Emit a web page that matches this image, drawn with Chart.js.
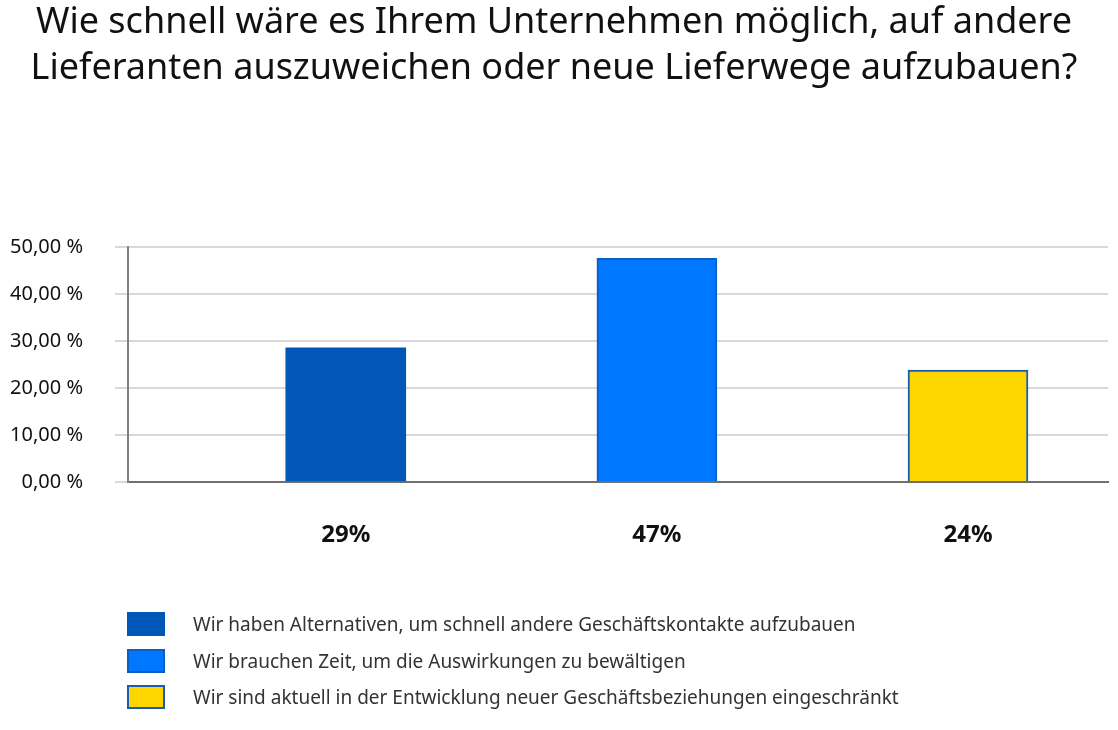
<!DOCTYPE html>
<html>
<head>
<meta charset="utf-8">
<script src="https://cdn.jsdelivr.net/npm/chart.js@4"></script>
<style>
  html, body { margin: 0; padding: 0; background: #fff; }
  #wrap { position: relative; width: 1118px; height: 730px; }
  #legend { position: absolute; left: 127px; top: 606px; font-family: "Noto Sans", sans-serif; font-size: 19px; color: #333; }
  .item { display: flex; align-items: center; height: 36.5px; }
  .box { width: 34px; height: 20px; margin-right: 28px; box-sizing: content-box; }
</style>
</head>
<body>
<div id="wrap">
  <canvas id="chart" width="1118" height="730"></canvas>
  <div id="legend"></div>
</div>
<script>
const titleLines = ['Wie schnell wäre es Ihrem Unternehmen möglich, auf andere', 'Lieferanten auszuweichen oder neue Lieferwege aufzubauen?'];
const answers = [
  'Wir haben Alternativen, um schnell andere Geschäftskontakte aufzubauen',
  'Wir brauchen Zeit, um die Auswirkungen zu bewältigen',
  'Wir sind aktuell in der Entwicklung neuer Geschäftsbeziehungen eingeschränkt'
];
const positions = [1, 2, 3];
const shares = [28.57, 47.62, 23.81];
const shareLabels = ['29%', '47%', '24%'];
const fillColors = ['#0057b8', '#0077ff', '#ffd500'];
const edgeColors = ['#0057b8', '#0a5fc4', '#1a5cb0'];

// legend
const legend = document.getElementById('legend');
answers.forEach((a, i) => {
  const row = document.createElement('div');
  row.className = 'item';
  const box = document.createElement('div');
  box.className = 'box';
  box.style.background = fillColors[i];
  box.style.border = '2px solid ' + edgeColors[i];
  const txt = document.createElement('span');
  txt.textContent = a;
  row.appendChild(box);
  row.appendChild(txt);
  legend.appendChild(row);
});

const ctx = document.getElementById('chart').getContext('2d');
new Chart(ctx, {
  type: 'bar',
  data: {
    datasets: [{
      data: positions.map((x, i) => ({ x, y: shares[i] })),
      backgroundColor: fillColors,
      borderColor: edgeColors,
      borderWidth: [0, 2, 2],
      barThickness: 120,
    }],
  },
  options: {
    responsive: false,
    animation: false,
    layout: { padding: { left: 0, right: 10, top: 0, bottom: 0 } },
    scales: {
      x: {
        type: 'linear',
        offset: false,
        min: 0.3,
        max: 3.45,
        afterBuildTicks: (scale) => { scale.ticks = positions.map(v => ({ value: v })); },
        afterFit: (scale) => { scale.height = 248; },
        grid: { display: false, drawTicks: false },
        border: { display: true, color: '#707070', width: 2 },
        ticks: {
          padding: 39,
          color: '#111',
          font: { family: 'Noto Sans', size: 24, weight: 'bold' },
          callback: (v) => shareLabels[positions.indexOf(v)] || '',
        },
      },
      y: {
        min: 0,
        max: 50,
        afterFit: (scale) => { scale.width = 128; },
        grid: { color: '#d9d9d9', lineWidth: 2, tickLength: 13 },
        border: { display: true, color: '#808080', width: 2 },
        ticks: {
          stepSize: 10,
          padding: 32,
          color: '#111',
          font: { family: 'Noto Sans', size: 20 },
          callback: (v) => v.toFixed(2).replace('.', ',') + ' %',
        },
      },
    },
    plugins: {
      legend: { display: false },
      tooltip: { enabled: false },
      title: {
        display: true,
        text: titleLines,
        color: '#111',
        font: { family: 'Noto Sans', size: 36, weight: 'normal', lineHeight: 1.28 },
        padding: { top: 0, bottom: 155 },
      },
    },
  },
});
</script>
</body>
</html>
